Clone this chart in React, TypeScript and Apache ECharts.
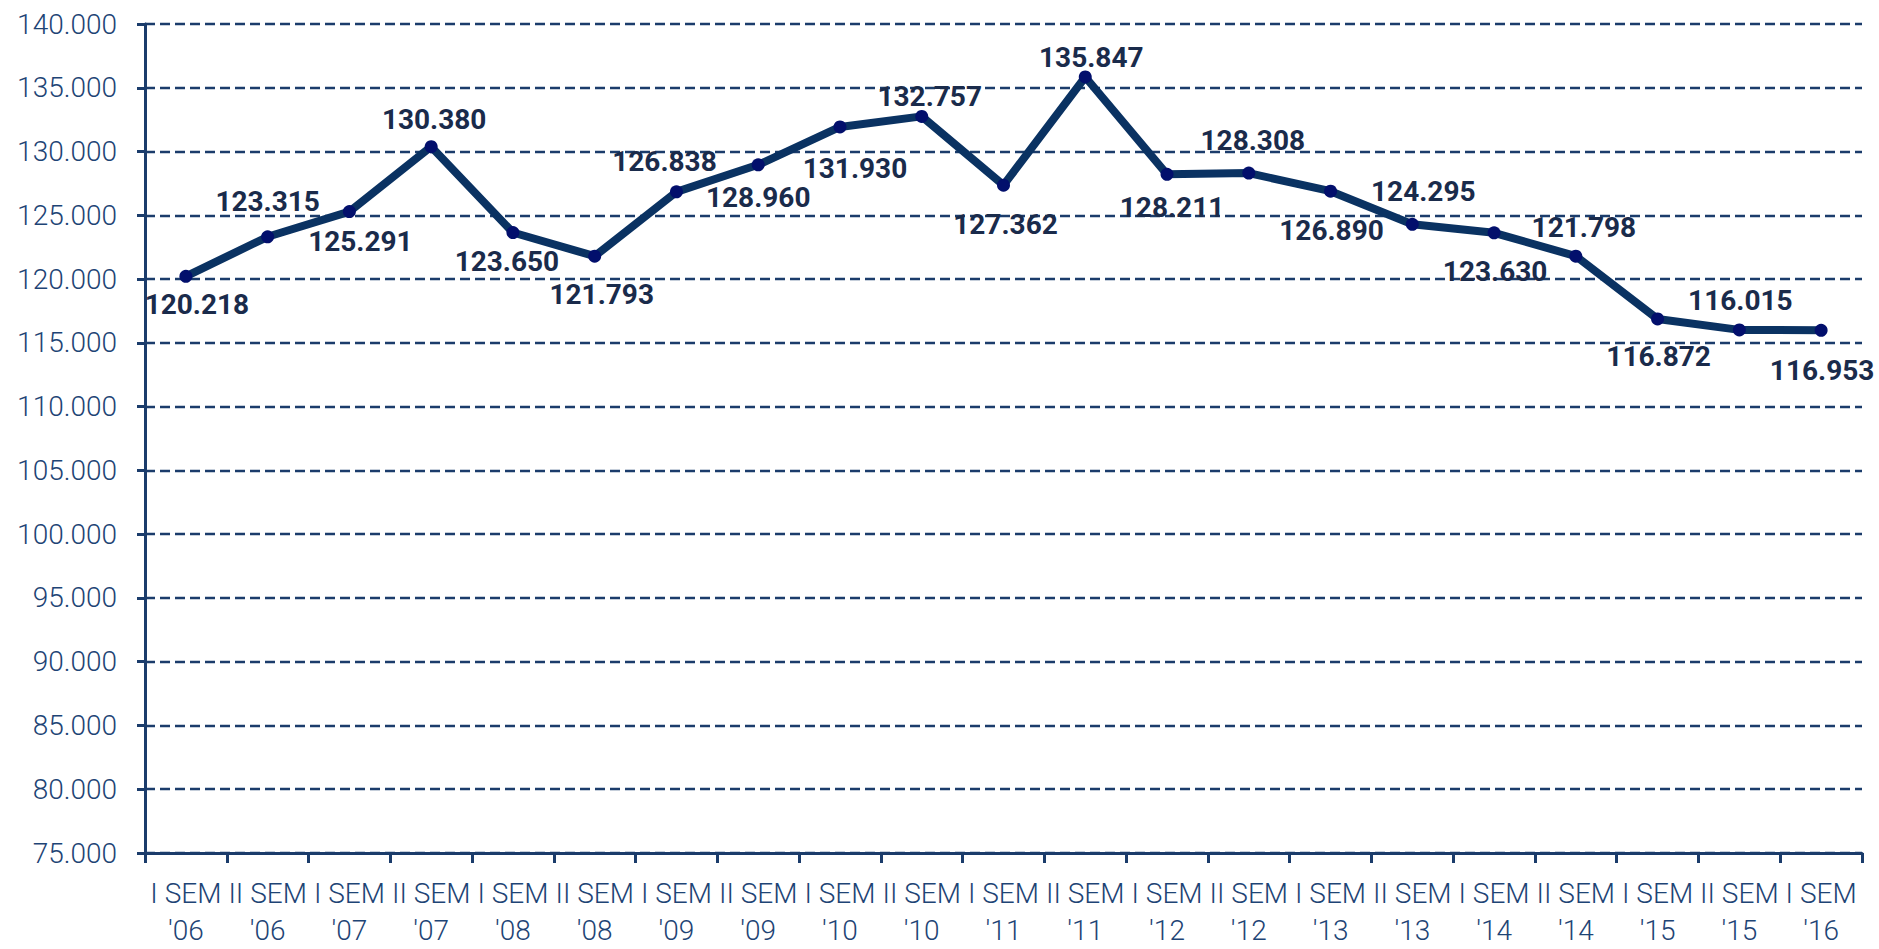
import React, { useEffect, useRef } from "react";
import * as echarts from "echarts";

const categories: string[] = [
  "I SEM\n'06", "II SEM\n'06", "I SEM\n'07", "II SEM\n'07", "I SEM\n'08", "II SEM\n'08",
  "I SEM\n'09", "II SEM\n'09", "I SEM\n'10", "II SEM\n'10", "I SEM\n'11", "II SEM\n'11",
  "I SEM\n'12", "II SEM\n'12", "I SEM\n'13", "II SEM\n'13", "I SEM\n'14", "II SEM\n'14",
  "I SEM\n'15", "II SEM\n'15", "I SEM\n'16",
];

const values: number[] = [
  120218, 123315, 125291, 130380, 123650, 121793, 126838, 128960, 131930, 132757, 127362,
  135847, 128211, 128308, 126890, 124295, 123630, 121798, 116872, 116015, 115980,
];

// data label texts as printed on the chart
const valueLabels: string[] = [
  "120.218", "123.315", "125.291", "130.380", "123.650", "121.793", "126.838", "128.960",
  "131.930", "132.757", "127.362", "135.847", "128.211", "128.308", "126.890", "124.295",
  "123.630", "121.798", "116.872", "116.015", "116.953",
];

const yMin = 75000;
const yMax = 140000;
const yStep = 5000;

// label placement (style): offset from point centre
const labelOffsets: [number, number][] = [
  [11, 28], [0, -35], [11, 30], [3, -27], [-6, 29], [7, 38], [-12, -30], [0, 33],
  [15, 42], [8, -20], [2, 39], [6, -19], [5, 33], [4, -33], [1, 39], [11, -33],
  [1, 39], [8, -29], [1, 38], [1, -29], [1, 40],
];

function fmt(v: number): string {
  const s = Math.round(v).toString();
  return s.replace(/\B(?=(\d{3})+(?!\d))/g, ".");
}

const AXIS_COLOR = "#1B3C6B";
const LABEL_COLOR = "#1E4475";
const FONT = "Roboto, 'Noto Sans', sans-serif";

export default function App() {
  const ref = useRef<HTMLDivElement>(null);
  useEffect(() => {
    if (!ref.current) return;
    const chart = echarts.init(ref.current, undefined, { renderer: "svg" });
    chart.setOption({
      animation: false,
      backgroundColor: "#ffffff",
      grid: { left: 145, right: 17, top: 24, bottom: 88.5, containLabel: false },
      xAxis: {
        type: "category",
        data: categories,
        boundaryGap: true,
        axisLine: { show: true, lineStyle: { color: AXIS_COLOR, width: 3 } },
        axisTick: { show: true, length: 10, lineStyle: { color: AXIS_COLOR, width: 3 } },
        axisLabel: {
          interval: 0,
          margin: 22,
          color: LABEL_COLOR,
          fontFamily: FONT,
          fontWeight: 300,
          fontSize: 28,
          lineHeight: 37,
        },
        splitLine: { show: false },
      },
      yAxis: {
        type: "value",
        min: yMin,
        max: yMax,
        interval: yStep,
        axisLine: { show: true, lineStyle: { color: AXIS_COLOR, width: 3 } },
        axisTick: { show: true, length: 8, lineStyle: { color: AXIS_COLOR, width: 3 } },
        axisLabel: {
          margin: 28,
          color: LABEL_COLOR,
          fontFamily: FONT,
          fontWeight: 300,
          fontSize: 28,
          formatter: (v: number) => fmt(v),
        },
        splitLine: {
          show: true,
          lineStyle: { color: AXIS_COLOR, width: 2.3, type: [10, 5] },
        },
      },
      series: [
        {
          type: "line",
          data: values.map((v, i) => ({
            value: v,
            label: { offset: labelOffsets[i] },
          })),
          symbol: "circle",
          symbolSize: 13,
          lineStyle: { color: "#0A3262", width: 8 },
          itemStyle: { color: "#020F6C" },
          label: {
            show: true,
            position: "inside",
            align: "center",
            verticalAlign: "middle",
            color: "#1A2B4B",
            fontFamily: FONT,
            fontWeight: "bold",
            fontSize: 28,
            formatter: (p: any) => valueLabels[p.dataIndex],
          },
          z: 3,
        },
      ],
    });
    return () => chart.dispose();
  }, []);
  return (
    <div
      ref={ref}
      style={{ position: "fixed", left: 0, top: 0, width: 1879, height: 949, background: "#fff" }}
    />
  );
}
